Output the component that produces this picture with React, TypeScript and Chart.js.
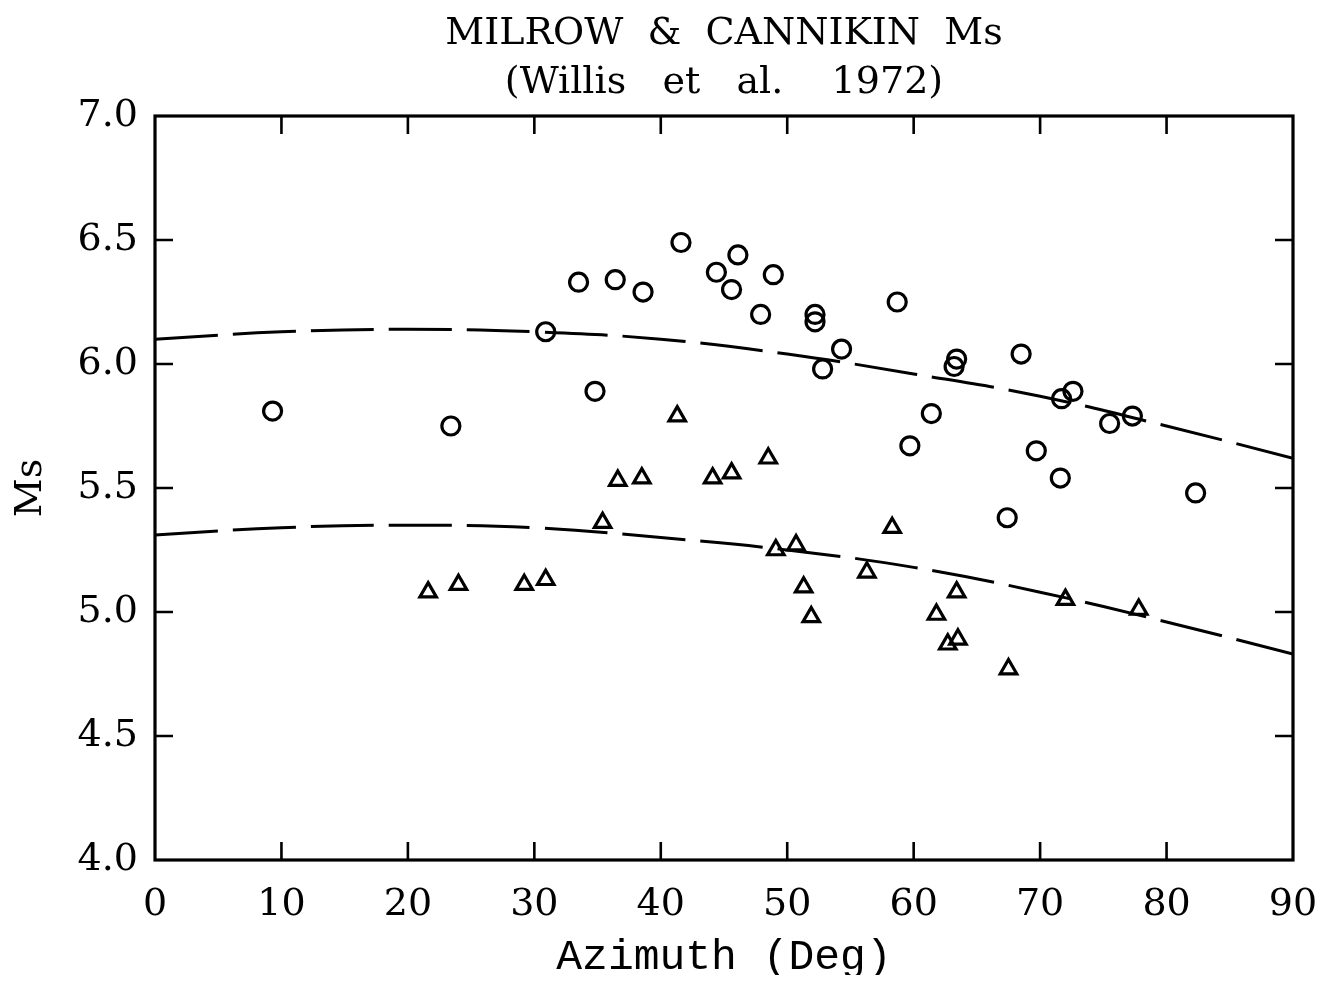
import React, { useEffect, useRef } from "react";
import { Chart, registerables } from "chart.js";

Chart.register(...registerables);

// ---- data ----
const circleAz = [9.3, 23.4, 30.9, 33.5, 34.8, 36.4, 38.6, 41.6, 44.4, 45.6, 46.1, 47.9, 48.9, 52.2, 52.2, 52.8, 54.3, 58.7, 59.7, 61.4, 63.4, 63.2, 67.4, 68.5, 69.7, 71.6, 71.7, 72.6, 75.5, 77.3, 82.3];
const circleMs = [5.81, 5.75, 6.13, 6.33, 5.89, 6.34, 6.29, 6.49, 6.37, 6.30, 6.44, 6.20, 6.36, 6.20, 6.17, 5.98, 6.06, 6.25, 5.67, 5.80, 6.02, 5.99, 5.38, 6.04, 5.65, 5.54, 5.86, 5.89, 5.76, 5.79, 5.48];

const triAz = [21.6, 24.0, 29.2, 30.9, 35.4, 36.6, 38.5, 41.3, 44.1, 45.6, 48.5, 49.1, 50.7, 51.3, 51.9, 56.3, 58.3, 61.8, 63.4, 62.7, 63.5, 67.5, 72.0, 77.8];
const triMs = [5.08, 5.11, 5.11, 5.13, 5.36, 5.53, 5.54, 5.79, 5.54, 5.56, 5.62, 5.25, 5.27, 5.10, 4.98, 5.16, 5.34, 4.99, 5.08, 4.87, 4.89, 4.77, 5.05, 5.01];

const fitAz = [0, 10, 20, 30, 40, 50, 60, 70, 80, 90];
const upperFit = [6.10, 6.13, 6.14, 6.13, 6.10, 6.04, 5.96, 5.87, 5.75, 5.62];
const lowerFit = [5.31, 5.34, 5.35, 5.34, 5.30, 5.25, 5.18, 5.08, 4.96, 4.83];

const xTicks = [0, 10, 20, 30, 40, 50, 60, 70, 80, 90];
const yTicks = [4.0, 4.5, 5.0, 5.5, 6.0, 6.5, 7.0];

const titleLines = ["MILROW  &  CANNIKIN  Ms", "(Willis   et   al.    1972)"];
const xTitle = "Azimuth (Deg)";
const yTitle = "Ms";

const FONT = "'DejaVu Serif', serif";
const XT_FONT = "'Liberation Mono', 'DejaVu Serif', monospace";

export default function App() {
  const ref = useRef<HTMLCanvasElement>(null);

  useEffect(() => {
    const frame = {
      id: "frame",
      afterDatasetsDraw(chart: any) {
        const { ctx, chartArea: a, scales } = chart;
        const xs = scales.x;
        const ys = scales.y;
        const tl = 18;
        ctx.save();
        ctx.strokeStyle = "#000";
        ctx.lineWidth = 3.2;
        ctx.strokeRect(a.left, a.top, a.right - a.left, a.bottom - a.top);
        ctx.lineWidth = 2.6;
        ctx.beginPath();
        xTicks.forEach((v) => {
          if (v === xTicks[0] || v === xTicks[xTicks.length - 1]) return;
          const px = xs.getPixelForValue(v);
          ctx.moveTo(px, a.bottom);
          ctx.lineTo(px, a.bottom - tl);
          ctx.moveTo(px, a.top);
          ctx.lineTo(px, a.top + tl);
        });
        yTicks.forEach((v) => {
          if (v === yTicks[0] || v === yTicks[yTicks.length - 1]) return;
          const py = ys.getPixelForValue(v);
          ctx.moveTo(a.left, py);
          ctx.lineTo(a.left + tl, py);
          ctx.moveTo(a.right, py);
          ctx.lineTo(a.right - tl, py);
        });
        ctx.stroke();
        ctx.restore();
      },
    };

    const lineStyle = {
      showLine: true,
      borderColor: "#000",
      borderWidth: 3,
      borderDash: [63, 15],
      pointRadius: 0,
      tension: 0.4,
      fill: false,
    };

    const chart = new Chart(ref.current as HTMLCanvasElement, {
      type: "scatter",
      data: {
        datasets: [
          {
            label: "upper fit",
            data: fitAz.map((x, i) => ({ x, y: upperFit[i] })),
            ...lineStyle,
          } as any,
          {
            label: "lower fit",
            data: fitAz.map((x, i) => ({ x, y: lowerFit[i] })),
            ...lineStyle,
          } as any,
          {
            label: "circles",
            data: circleAz.map((x, i) => ({ x, y: circleMs[i] })),
            pointStyle: "circle",
            pointRadius: 9,
            borderWidth: 3.2,
            borderColor: "#000",
            backgroundColor: "rgba(0,0,0,0)",
          },
          {
            label: "triangles",
            data: triAz.map((x, i) => ({ x, y: triMs[i] })),
            pointStyle: "triangle",
            pointRadius: 9.5,
            borderWidth: 3.2,
            borderColor: "#000",
            backgroundColor: "rgba(0,0,0,0)",
          },
        ],
      },
      options: {
        responsive: false,
        animation: false,
        layout: { padding: 0 },
        plugins: {
          legend: { display: false },
          tooltip: { enabled: false },
          title: {
            display: true,
            text: titleLines,
            color: "#000",
            fullSize: false,
            font: { family: FONT, size: 38, weight: "normal", lineHeight: "49px" },
            padding: { top: 2, bottom: 8 },
          },
        },
        scales: {
          x: {
            type: "linear",
            min: 0,
            max: 90,
            afterFit(s: any) {
              s.height = 115;
              s.paddingLeft = 0;
              s.paddingRight = 24;
            },
            afterBuildTicks(s: any) {
              s.ticks = xTicks.map((v) => ({ value: v }));
            },
            ticks: {
              color: "#000",
              font: { family: FONT, size: 38 },
              padding: 22,
              maxRotation: 0,
              autoSkip: false,
            },
            grid: { display: false, drawTicks: false },
            border: { display: false },
            title: {
              display: true,
              text: xTitle,
              color: "#000",
              font: { family: XT_FONT, size: 43, lineHeight: "34px" },
              padding: 0,
            },
          },
          y: {
            type: "linear",
            min: 4,
            max: 7,
            afterFit(s: any) {
              s.width = 147;
            },
            afterBuildTicks(s: any) {
              s.ticks = yTicks.map((v) => ({ value: v }));
            },
            ticks: {
              color: "#000",
              font: { family: FONT, size: 38 },
              padding: 17,
              callback: (v: any) => Number(v).toFixed(1),
            },
            grid: { display: false, drawTicks: false },
            border: { display: false },
            title: {
              display: true,
              text: yTitle,
              color: "#000",
              font: { family: FONT, size: 38 },
              padding: 0,
            },
          },
        },
      },
      plugins: [frame],
    } as any);

    return () => chart.destroy();
  }, []);

  return <canvas ref={ref} width={1309} height={967} style={{ display: "block" }} />;
}
